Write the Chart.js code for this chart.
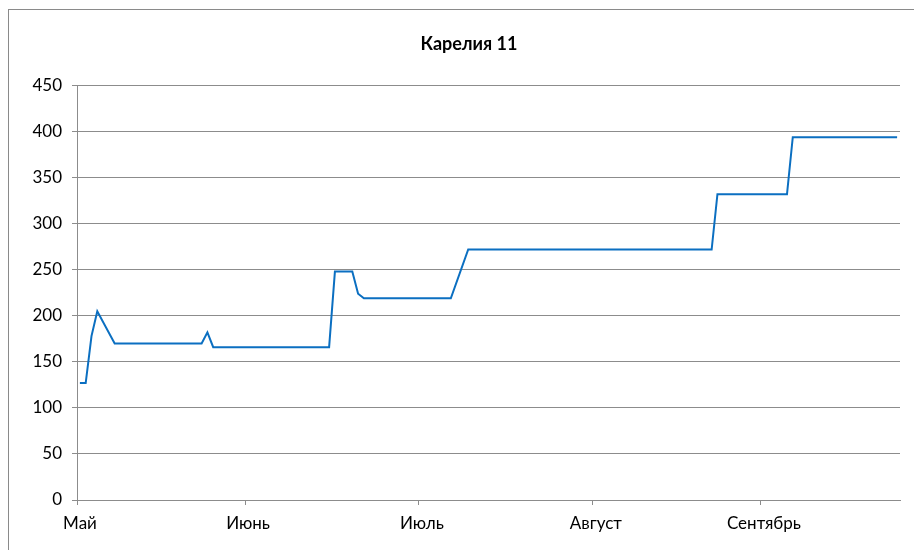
<!DOCTYPE html>
<html>
<head>
<meta charset="utf-8">
<script src="https://cdn.jsdelivr.net/npm/chart.js@4/dist/chart.umd.min.js"></script>
<style>
  html, body { margin: 0; padding: 0; background: #fff; overflow: hidden; }
  #wrap { width: 914px; height: 550px; }
</style>
</head>
<body>
<div id="wrap"><canvas id="c" width="914" height="550"></canvas></div>
<script>
// Daily observation index (0 = first day) where the series changes course
const dayIndex = [0, 1, 2, 3, 6, 21, 22, 23, 43, 44, 47, 48, 49, 64, 67, 109, 110, 122, 123, 141];
// Series values at those days
const seriesValues = [127, 127, 178, 205, 170, 170, 182, 166, 166, 248, 248, 224, 219, 219, 272, 272, 332, 332, 394, 394];
// Month labels and the day index where each month begins
const monthLabels = ['Май', 'Июнь', 'Июль', 'Август', 'Сентябрь'];
const monthStart = [0, 29, 59, 89, 118];
const dayCount = 142;
// Y axis ticks
const yTicks = [0, 50, 100, 150, 200, 250, 300, 350, 400, 450];

const GRID = '#8c8c8c';
const FONT = 'Lato, "Open Sans", sans-serif';

// White background and the grey frame around the whole chart
const frame = {
  id: 'frame',
  beforeDraw(chart) {
    const ctx = chart.ctx;
    ctx.save();
    ctx.fillStyle = '#fff';
    ctx.fillRect(0, 0, chart.width, chart.height);
    ctx.strokeStyle = '#8a8a8a';
    ctx.lineWidth = 1;
    ctx.strokeRect(8.5, 9.5, 1000, 1000);
    ctx.restore();
  }
};

// The frame runs past the right edge, so centre the title on the full frame width
const titleShift = {
  id: 'titleShift',
  afterLayout(chart) {
    const t = chart.titleBlock;
    if (t) { t.left += 9; t.right += 9; }
  }
};

new Chart(document.getElementById('c'), {
  type: 'line',
  data: {
    datasets: [{
      label: 'Карелия 11',
      data: dayIndex.map((d, i) => ({ x: d, y: seriesValues[i] })),
      borderColor: '#0b6fc1',
      borderWidth: 2,
      pointRadius: 0,
      tension: 0,
      fill: false
    }]
  },
  options: {
    responsive: false,
    animation: false,
    layout: { padding: { left: 20, right: 14, top: 0, bottom: 0 } },
    plugins: {
      legend: { display: false },
      tooltip: { enabled: false },
      title: {
        display: true,
        text: 'Карелия 11',
        color: '#000',
        font: { family: FONT, size: 18, weight: 'bold', lineHeight: 1.2 },
        padding: { top: 33, bottom: 31 }
      }
    },
    scales: {
      x: {
        type: 'linear',
        min: -0.5,
        max: dayCount - 0.5,
        afterBuildTicks(scale) {
          scale.ticks = monthStart.map(s => ({ value: s - 0.5 }));
        },
        afterFit(scale) { scale.height = 50; },
        border: { display: true, color: GRID, width: 1 },
        grid: {
          drawOnChartArea: false,
          drawTicks: true,
          tickLength: 5,
          color: GRID
        },
        ticks: {
          autoSkip: false,
          maxRotation: 0,
          padding: 8,
          labelOffset: 3,
          color: '#000',
          font: { family: FONT, size: 17 },
          callback(value) {
            const i = monthStart.indexOf(Math.round(value + 0.5));
            return i >= 0 ? monthLabels[i] : '';
          }
        }
      },
      y: {
        min: 0,
        max: 450,
        afterBuildTicks(scale) {
          scale.ticks = yTicks.map(v => ({ value: v }));
        },
        afterFit(scale) { scale.width = 57; },
        border: { display: true, color: GRID, width: 1 },
        grid: {
          color: GRID,
          lineWidth: 1,
          drawTicks: true,
          tickLength: 5
        },
        ticks: {
          padding: 10,
          color: '#000',
          font: { family: FONT, size: 17 }
        }
      }
    }
  },
  plugins: [frame, titleShift]
});
</script>
</body>
</html>
